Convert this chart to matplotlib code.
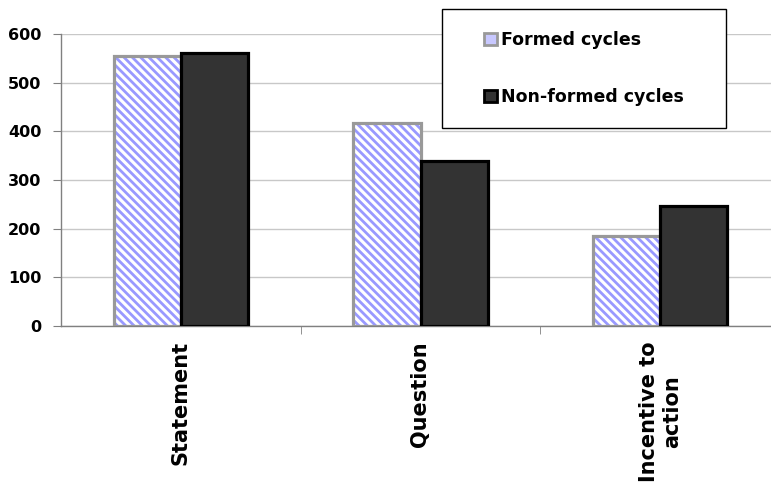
import matplotlib
matplotlib.use("Agg")
import matplotlib.pyplot as plt
from matplotlib.patches import Patch, Rectangle
import numpy as np

categories = ["Statement", "Question", "Incentive to\naction"]
formed = [555, 417, 184]
non_formed = [560, 340, 247]
series_labels = ["Formed cycles", "Non-formed cycles"]
yticks = [0, 100, 200, 300, 400, 500, 600]

plt.rcParams["font.family"] = "DejaVu Sans"
plt.rcParams["font.weight"] = "bold"
plt.rcParams["hatch.linewidth"] = 2.0

W, H = 771, 484
fig = plt.figure(figsize=(W / 100, H / 100), dpi=100)
ax = fig.add_axes([61 / W, 1 - 326 / H, 719 / W, 292 / H])

x = np.arange(len(categories))
bw = 0.28

# formed: blue hatch, gray outline drawn separately (hatch takes edge colour)
ax.bar(x - bw / 2, formed, bw, color="white", edgecolor="#9999ff", hatch="\\\\\\\\",
       linewidth=0, zorder=2)
ax.bar(x - bw / 2, formed, bw, fill=False, edgecolor="#999999", linewidth=2.3, zorder=3)
ax.bar(x + bw / 2, non_formed, bw, color="#333333", edgecolor="black", linewidth=2.3, zorder=4)

ax.set_xlim(-0.5, 2.5)
ax.set_ylim(0, 600)
ax.set_yticks(yticks)
ax.set_yticklabels([str(v) for v in yticks], fontsize=11.5, fontweight="bold")
ax.set_xticks(x)
ax.set_xticklabels(categories, rotation=90, fontsize=15, fontweight="bold",
                   va="top", ha="center", multialignment="center")
ax.set_xticks([0.5, 1.5], minor=True)
ax.tick_params(axis="x", which="major", length=0, pad=11)
ax.tick_params(axis="x", which="minor", length=6, color="#808080", direction="out")
ax.tick_params(axis="y", length=6, color="#808080", pad=8)

ax.grid(axis="y", color="#c8c8c8", linewidth=1)
ax.set_axisbelow(True)
for s in ("top", "right"):
    ax.spines[s].set_visible(False)
for s in ("left", "bottom"):
    ax.spines[s].set_color("#808080")
    ax.spines[s].set_linewidth(1)

# legend box
fig.patches.append(Rectangle((442 / W, 1 - 128 / H), 284 / W, 119 / H, transform=fig.transFigure,
                             facecolor="white", edgecolor="black", linewidth=1, zorder=5))
handles = [Patch(facecolor="#c8c8ff", edgecolor="#999999", linewidth=2),
           Patch(facecolor="#333333", edgecolor="black", linewidth=2)]
leg = fig.legend(handles, series_labels, loc="center", bbox_to_anchor=(584 / W, 1 - 68.5 / H),
                 frameon=False, prop={"size": 12.5, "weight": "bold"}, labelspacing=2.25,
                 handlelength=0.75, handleheight=0.75, handletextpad=0.2)
leg.set_zorder(6)

fig.savefig("out.png", dpi=100)
